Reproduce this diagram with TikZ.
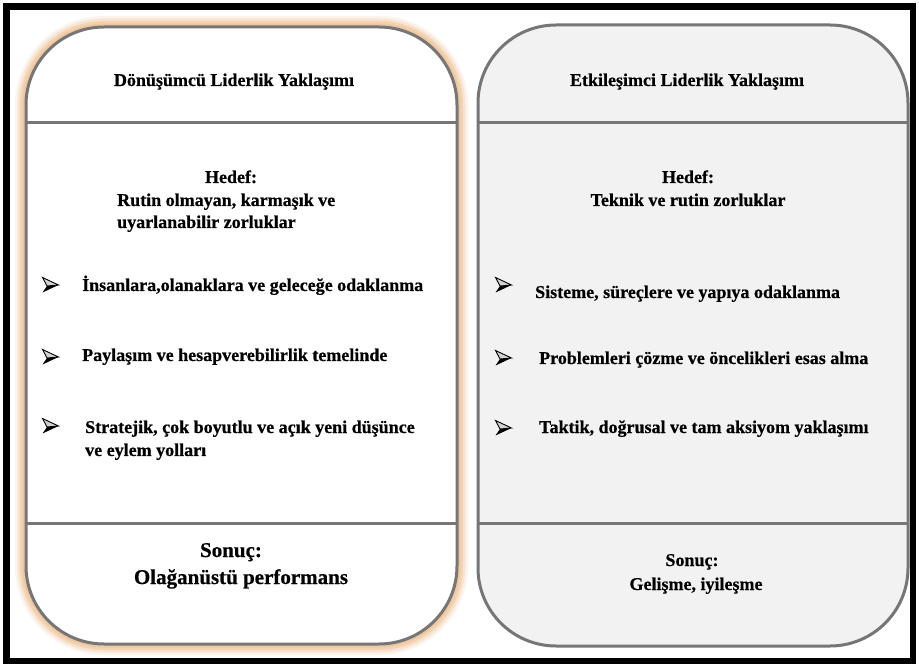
\documentclass[tikz,border=0pt]{standalone}
\usepackage{fontspec}
\setmainfont[BoldFeatures={FakeBold=0.6}]{Liberation Serif}
\definecolor{glow}{RGB}{240,200,160}
\definecolor{boxline}{RGB}{118,118,118}
\definecolor{panelgray}{RGB}{242,242,242}
\begin{document}
\begin{tikzpicture}[x=1pt,y=-1pt,
  txt/.style={inner sep=0pt, font=\bfseries\fontsize{18}{22.5}\selectfont},
  bigtxt/.style={inner sep=0pt, font=\bfseries\fontsize{21}{26}\selectfont},
  panel/.style={draw=boxline, line width=3pt, rounded corners=78pt},
  divider/.style={draw=boxline, line width=3pt},
  bulletarrow/.pic={
    \fill[black] (8.5,0) -- (-3,1) -- (-7.5,7.5) -- cycle;
    \filldraw[fill=gray!35, draw=black, line width=0.9pt, line join=miter]
      (8.5,0) -- (-7.5,-7.5) -- (-3,1) -- cycle;
  }]
\useasboundingbox (0,0) rectangle (919,668);
\fill[white] (0,0) rectangle (919,668);

% outer frame
\draw[line width=6.5pt] (6.5,6.5) rectangle (913,661);

% left panel with soft peach glow
\foreach \w/\o in {22/0.2, 17/0.35, 12/0.6, 7/1}
  \draw[glow, line width=\w pt, opacity=\o, rounded corners=78pt] (26,27) rectangle (457,644);
\fill[white, rounded corners=78pt] (26,27) rectangle (457,644);
\draw[panel] (26,27) rectangle (457,644);
\draw[divider] (26,123) -- (457,123);
\draw[divider] (26,523) -- (457,523);

% right panel
\fill[panelgray, rounded corners=78pt] (478,25) rectangle (908,646);
\draw[panel] (478,25) rectangle (908,646);
\draw[divider] (478,123) -- (908,123);
\draw[divider] (478,523) -- (908,523);

% left panel texts
\node[txt, anchor=base] (ltitle) at (234,86) {Dönüşümcü Liderlik Yaklaşımı};
\node[txt, anchor=base] (lgoal) at (231,183) {Hedef:};
\node[txt, anchor=base west] (lgoal1) at (117,206) {Rutin olmayan, karmaşık ve};
\node[txt, anchor=base west] (lgoal2) at (117,228) {uyarlanabilir zorluklar};

\pic at (50,285) {bulletarrow};
\node[txt, anchor=base west] (lb1) at (82,291) {İnsanlara,olanaklara ve geleceğe odaklanma};
\pic at (50,357) {bulletarrow};
\node[txt, anchor=base west] (lb2) at (82,361) {Paylaşım ve hesapverebilirlik temelinde};
\pic at (50,426) {bulletarrow};
\node[txt, anchor=base west] (lb3) at (85,433) {Stratejik, çok boyutlu ve açık yeni düşünce};
\node[txt, anchor=base west] (lb3b) at (85,456) {ve eylem yolları};

\node[bigtxt, anchor=base] (lres) at (231,557) {Sonuç:};
\node[bigtxt, anchor=base] (lres1) at (241,584) {Olağanüstü performans};

% right panel texts
\node[txt, anchor=base] (rtitle) at (687,86) {Etkileşimci Liderlik Yaklaşımı};
\node[txt, anchor=base] (rgoal) at (688,183) {Hedef:};
\node[txt, anchor=base] (rgoal1) at (688,206) {Teknik ve rutin zorluklar};

\pic at (503,285) {bulletarrow};
\node[txt, anchor=base west] (rb1) at (535,298) {Sisteme, süreçlere ve yapıya odaklanma};
\pic at (503,358) {bulletarrow};
\node[txt, anchor=base west] (rb2) at (539,364) {Problemleri çözme ve öncelikleri esas alma};
\pic at (503,428) {bulletarrow};
\node[txt, anchor=base west] (rb3) at (539,433) {Taktik, doğrusal ve tam aksiyom yaklaşımı};

\node[txt, anchor=base] (rres) at (692,566) {Sonuç:};
\node[txt, anchor=base] (rres1) at (696,590) {Gelişme, iyileşme};
\end{tikzpicture}
\end{document}
